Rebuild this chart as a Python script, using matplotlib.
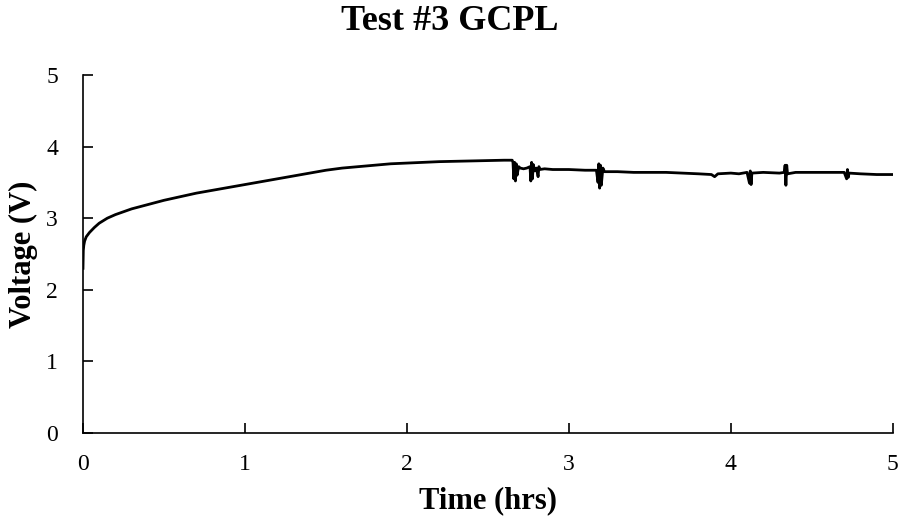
import matplotlib.pyplot as plt

plt.rcParams["font.family"] = ["Liberation Serif", "DejaVu Serif"]

# charge curve
time_hrs = [
    0.0, 0.002, 0.005, 0.01, 0.02, 0.04, 0.07, 0.1, 0.15, 0.2, 0.25, 0.3, 0.4,
    0.5, 0.6, 0.7, 0.8, 0.9, 1.0, 1.1, 1.2, 1.3, 1.4, 1.5, 1.6, 1.7, 1.8,
    1.9, 2.0, 2.2, 2.4, 2.6, 2.65,
    # noisy rest section
    2.655, 2.66, 2.665, 2.67, 2.675, 2.68, 2.69, 2.7, 2.72, 2.74, 2.76,
    2.765, 2.77, 2.775, 2.78, 2.79, 2.8, 2.81, 2.815, 2.82, 2.85, 2.9,
    3.0, 3.1, 3.17, 3.18, 3.185, 3.19, 3.195, 3.2, 3.21, 3.22, 3.3, 3.4,
    3.5, 3.6, 3.7, 3.8, 3.88, 3.9, 3.92, 4.0, 4.05, 4.1, 4.115, 4.12,
    4.125, 4.13, 4.2, 4.3, 4.33, 4.335, 4.34, 4.345, 4.35, 4.4, 4.5,
    4.6, 4.7, 4.715, 4.72, 4.725, 4.73, 4.8, 4.9, 5.0,
]
voltage = [
    2.30, 2.55, 2.62, 2.68, 2.74, 2.80, 2.87, 2.93, 3.00, 3.05, 3.09, 3.13, 3.19,
    3.25, 3.30, 3.35, 3.39, 3.43, 3.47, 3.51, 3.55, 3.59, 3.63, 3.67, 3.70, 3.72, 3.74,
    3.76, 3.77, 3.79, 3.80, 3.81, 3.81,
    3.78, 3.55, 3.78, 3.52, 3.76, 3.60, 3.72, 3.70, 3.69, 3.70, 3.72,
    3.52, 3.78, 3.55, 3.75, 3.66, 3.70, 3.58, 3.72, 3.68, 3.69, 3.68,
    3.68, 3.67, 3.67, 3.50, 3.76, 3.42, 3.74, 3.46, 3.70, 3.65, 3.65, 3.64,
    3.64, 3.64, 3.63, 3.62, 3.61, 3.58, 3.62, 3.63, 3.62, 3.64, 3.49, 3.66,
    3.47, 3.63, 3.64, 3.63, 3.64, 3.74, 3.46, 3.74, 3.62, 3.64, 3.64,
    3.64, 3.64, 3.55, 3.68, 3.57, 3.63, 3.62, 3.61, 3.61,
]

x_ticks = [0, 1, 2, 3, 4, 5]
y_ticks = [0, 1, 2, 3, 4, 5]

fig = plt.figure(figsize=(9, 5.26), dpi=100)
ax = fig.add_axes([0.0922, 0.1768, 0.8998, 0.6806])

ax.plot(time_hrs, voltage, color="black", linewidth=2.0)

ax.set_xlim(0, 5)
ax.set_ylim(0, 5)
ax.set_xticks(x_ticks)
ax.set_yticks(y_ticks)
ax.tick_params(direction="in", length=7, width=1.2, labelsize=17)
ax.tick_params(axis="x", pad=15)
ax.tick_params(axis="y", pad=18)
ax.spines["top"].set_visible(False)
ax.spines["right"].set_visible(False)
ax.spines["left"].set_linewidth(1.2)
ax.spines["bottom"].set_linewidth(1.2)

ax.set_xlabel("Time (hrs)", fontsize=22, fontweight="bold", va="center")
ax.xaxis.set_label_coords(0.5, -0.19)
ax.set_ylabel("Voltage (V)", fontsize=22, fontweight="bold", va="center", ha="center")
ax.yaxis.set_label_coords(-0.073, 0.5)
fig.text(0.5, 1 - 21 / 526, "Test #3 GCPL", fontsize=26, fontweight="bold",
         ha="center", va="center")

fig.savefig("out.png", dpi=100)
